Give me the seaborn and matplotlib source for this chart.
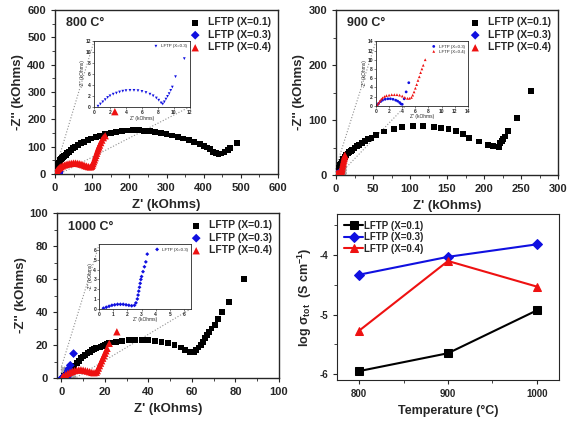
import numpy as np
import matplotlib
matplotlib.use('Agg')
import matplotlib.pyplot as plt
from matplotlib.ticker import MultipleLocator
import seaborn as sns

sns.set_style('ticks')
plt.rcParams['font.family'] = ['Liberation Sans', 'DejaVu Sans']
plt.rcParams['font.weight'] = 'bold'
plt.rcParams['axes.labelweight'] = 'bold'
plt.rcParams['mathtext.fontset'] = 'custom'
plt.rcParams['mathtext.rm'] = 'Liberation Sans:bold'
plt.rcParams['mathtext.it'] = 'Liberation Sans:bold'
plt.rcParams['mathtext.bf'] = 'Liberation Sans:bold'

labels = ['LFTP (X=0.1)', 'LFTP (X=0.3)', 'LFTP (X=0.4)']

# ---- 800 C (kOhms)
zr_800_a = [0.5,1,2,3,4,5,6,7,8,10,12,14,16,19,22,25,29,33,38,43,49,55,62,70,78,88,98,110,122,135,
            150,165,180,195,210,225,240,255,270,285,300,315,330,345,360,375,390,400,410,418,
            425,432,440,448,456,465,472,490]
zi_800_a = [8,12,18,22,26,29,32,35,38,42,46,50,54,58,62,66,71,76,82,88,94,100,106,112,118,124,130,135,140,145,
            150,154,157,159,160,160,158,156,153,150,146,141,136,130,124,117,110,104,97,90,
            82,76,74,75,80,88,96,113]
zr_800_c = [1,2,3,5,7,10,13,16,20,25,30,35,40,45,50,55,60,65,70,75,80,85,90,95,98,100,102,104,106,108,
            110,112,114,116,118,120,123,126,130,135,161]
zi_800_c = [2,5,8,12,16,20,24,27,30,33,35,37,38,39,40,40,39,38,36,34,31,29,27,26,28,32,38,45,52,60,
            68,76,84,92,99,106,115,124,133,140,228]
zr_800_b = [0.5,0.8,1.1,1.4,1.7,2.0,2.4,2.8,3.2,3.6,4.0,4.5,5.0,5.5,6.0,6.5,7.0,7.4,7.8,8.1,
            8.4,8.6,8.8,9.0,9.2,9.4,9.6,9.8,10.2,11.3]
zi_800_b = [0.1,0.5,0.9,1.3,1.7,2.0,2.3,2.5,2.7,2.85,2.95,3.0,3.0,2.95,2.8,2.6,2.3,2.0,1.6,1.2,
            0.7,0.5,0.9,1.4,1.9,2.4,3.0,3.6,5.5,8.8]

# ---- 900 C
zr_900_a = [1,2,3,4,5,6,7,8,9,10,12,14,16,18,20,22,25,28,31,35,39,43,48,54,65,78,89,104,118,132,
            142,152,162,172,180,193,205,212,220,221,222,224,226,228,232,244,264]
zi_900_a = [3,6,9,12,15,18,21,24,27,30,33,36,39,42,44,46,49,52,55,58,62,65,68,73,79,84,87,89,89,88,
            86,83,80,74,67,61,55,52,51,54,58,62,66,70,80,104,153]
zr_900_b = [0.2,0.4,0.7,1.0,1.4,1.8,2.2,2.6,3.0,3.3,3.6,3.8,4.0,4.3,4.6,5.0]
zi_900_b = [0.2,0.5,0.9,1.2,1.4,1.5,1.5,1.4,1.2,1.0,0.7,0.4,0.3,1.5,3.0,5.0]
zr_900_c = [0.2,0.4,0.6,0.8,1.0,1.3,1.6,2.0,2.4,2.8,3.2,3.6,4.0,4.4,4.8,5.1,5.4,5.6,5.8,6.0,
            6.2,6.4,6.6,6.8,7.0,7.2,7.5]
zi_900_c = [0.2,0.6,1.0,1.4,1.7,2.0,2.2,2.3,2.4,2.4,2.4,2.3,2.1,1.8,1.6,1.6,1.8,2.3,3.0,3.8,
            4.6,5.5,6.3,7.2,8.0,8.8,10.0]
zr_900_c_hi = [8,8.5,9,9.5,10,10.5,11,11.5,12]
zi_900_c_hi = [12,15,18,21,24,27,30,33,36]

# ---- 1000 C
zr_1000_a = [1,2,3,4,5,6,7,8,9,10,11,12,13,14,15,16,17,18,19,20,21,22,23,25,28,31,34,37,40,43,
             46,49,52,55,57,59,60,61,62,63,64,65,66,67,68,69,70.5,72,74,77,83.8]
zi_1000_a = [1,2,3,4.5,6,7.5,9,10.5,12,13,14,15,16,17,17.5,18,18.5,19,19.5,20,20.5,21,21.5,22,22.5,23,23,23,23,22.5,
             22,21,20,18.5,17,16,15.8,16,17,18.5,20,22,24,26,28,30,32,35.5,40,46,60]
zr_1000_c = [0.5,1,2,3,4,5,6,7,8,9,10,11,12,13,14,15,16,16.5,17,17.5,18,18.5,19,19.5,20,20.5,21,22,25.5]
zi_1000_c = [0.5,1.2,2,2.8,3.5,4,4.5,4.8,5,5,4.8,4.5,4.2,3.8,3.4,3.2,3.5,4.5,6,7.5,9,10.5,12,13.5,15,16.5,18,21,28]
zr_1000_b = [0.3,0.5,0.7,0.9,1.1,1.3,1.5,1.7,1.9,2.1,2.3,2.5,2.6,2.7,2.75,2.8,2.85,2.9,2.95,3.0,3.1,3.2,3.3,3.4]
zi_1000_b = [0.05,0.15,0.25,0.35,0.4,0.45,0.45,0.45,0.4,0.35,0.3,0.35,0.6,1.0,1.4,1.8,2.2,2.6,3.0,3.3,3.8,4.3,4.8,5.6]
zr_1000_b_hi = [4.1, 5.6]
zi_1000_b_hi = [7.7, 14.8]

# ---- conductivity
temps = [800, 900, 1000]
logsig_a = [-5.95, -5.65, -4.93]
logsig_b = [-4.33, -4.03, -3.82]
logsig_c = [-5.27, -4.10, -4.53]

colors = ['black', '#1010e0', '#ee1111']
markers = ['s', 'D', '^']
sizes = [18, 20, 28]

fig = plt.figure(figsize=(5.76, 4.24), dpi=100)
W, H = 576, 424
def rect(x0, y0, x1, y1):
    return [x0 / W, 1 - y1 / H, (x1 - x0) / W, (y1 - y0) / H]

ax1 = fig.add_axes(rect(55, 10, 278, 174))
ax2 = fig.add_axes(rect(336, 10, 558, 175))
ax3 = fig.add_axes(rect(57, 213, 279, 378))
ax4 = fig.add_axes(rect(337, 214, 559, 380))


def nyquist(ax, series, title, xmax, xmin, step, ymax):
    for (x, y), c, m, s, lab in zip(series, colors, markers, sizes, labels):
        sns.scatterplot(x=x, y=y, ax=ax, color=c, marker=m, s=s, edgecolor='none',
                        label=lab, zorder=3)
    ax.set_xlim(xmin, xmax)
    ax.set_ylim(0, ymax)
    ax.xaxis.set_major_locator(MultipleLocator(step))
    ax.xaxis.set_minor_locator(MultipleLocator(step / 2))
    ax.tick_params(labelsize=8, length=3)
    ax.tick_params(which='minor', length=2)
    ax.set_xlabel("Z' (kOhms)", fontsize=9.5)
    ax.set_ylabel("-Z'' (kOhms)", fontsize=9.5, labelpad=2)
    ax.text(0.05, 0.9, title, transform=ax.transAxes, fontsize=9, fontweight='bold')
    ax.legend(loc='upper right', frameon=False, fontsize=7.5, labelspacing=0.25,
              handletextpad=0.2, borderaxespad=0.3, markerscale=1.0)
    for sp in ax.spines.values():
        sp.set_linewidth(1.0)


def inset(ax, bounds, series, lim, step, show):
    ins = ax.inset_axes(bounds)
    for (x, y), c, lab in zip(series, show[0], show[1]):
        sns.scatterplot(x=x, y=y, ax=ins, color=c[0], marker=c[1], s=4,
                        edgecolor='none', label=lab)
    ins.set_xlim(0, lim[0])
    ins.set_ylim(0, lim[1])
    ins.xaxis.set_major_locator(MultipleLocator(step))
    ins.yaxis.set_major_locator(MultipleLocator(step))
    ins.tick_params(labelsize=3.5, length=1.2, width=0.4, pad=1)
    ins.set_xlabel("Z' (kOhms)", fontsize=3.5, labelpad=0.5, fontweight='normal')
    ins.set_ylabel("-Z'' (kOhms)", fontsize=3.5, labelpad=0.5, fontweight='normal')
    ins.legend(loc='upper right', frameon=False, handletextpad=0.1,
               markerscale=1, borderaxespad=0.3, labelspacing=0.2,
               prop={'size': 3.2, 'weight': 'normal'})
    for sp in ins.spines.values():
        sp.set_linewidth(0.6)
    ax.indicate_inset_zoom(ins, edgecolor='0.45', facecolor='0.6', alpha=0.8,
                           linestyle=':', linewidth=0.8, zorder=1)
    return ins


# 800 C
nyquist(ax1, [(zr_800_a, zi_800_a), (zr_800_b, zi_800_b), (zr_800_c, zi_800_c)],
        '800 C°', 600, 0, 100, 600)
ax1.yaxis.set_major_locator(MultipleLocator(100))
ax1.yaxis.set_minor_locator(MultipleLocator(50))
inset(ax1, [0.175, 0.41, 0.43, 0.40], [(zr_800_b, zi_800_b)], (12, 12), 2,
      ([(colors[1], 'v')], [labels[1]]))

# 900 C
nyquist(ax2, [(zr_900_a, zi_900_a), (zr_900_b, zi_900_b),
              (zr_900_c + zr_900_c_hi, zi_900_c + zi_900_c_hi)],
        '900 C°', 300, 0, 50, 300)
ax2.yaxis.set_major_locator(MultipleLocator(100))
ax2.yaxis.set_minor_locator(MultipleLocator(50))
inset(ax2, [0.18, 0.42, 0.414, 0.39], [(zr_900_b, zi_900_b), (zr_900_c, zi_900_c)], (14, 14), 2,
      ([(colors[1], 'o'), (colors[2], '^')], [labels[1], labels[2]]))

# 1000 C
nyquist(ax3, [(zr_1000_a, zi_1000_a), (zr_1000_b + zr_1000_b_hi, zi_1000_b + zi_1000_b_hi),
              (zr_1000_c, zi_1000_c)],
        '1000 C°', 100, -2, 20, 100)
ax3.yaxis.set_major_locator(MultipleLocator(20))
ax3.yaxis.set_minor_locator(MultipleLocator(10))
inset(ax3, [0.19, 0.42, 0.414, 0.39], [(zr_1000_b, zi_1000_b)], (6.5, 6.6), 1,
      ([(colors[1], 'D')], [labels[1]]))

# conductivity panel
for y, c, m, lab in zip([logsig_a, logsig_b, logsig_c], colors, markers, labels):
    sns.lineplot(x=temps, y=y, ax=ax4, color=c, marker=m, markersize=5.5,
                 markeredgecolor=c, linewidth=1.5, label=lab)
ax4.set_xlim(775, 1025)
ax4.set_ylim(-6.1, -3.31)
ax4.xaxis.set_major_locator(MultipleLocator(100))
ax4.xaxis.set_minor_locator(MultipleLocator(50))
ax4.yaxis.set_minor_locator(MultipleLocator(0.5))
ax4.set_yticks([-6, -5, -4])
ax4.set_yticklabels(['-6', '-5', '-4'])
ax4.tick_params(labelsize=7, length=3)
ax4.tick_params(which='minor', length=2)
ax4.set_xlabel('Temperature (°C)', fontsize=9)
ax4.set_ylabel(r'log $\sigma_{\rm tot}$  (S cm$^{-1}$)', fontsize=9)
ax4.legend(loc='upper left', frameon=False, fontsize=7, handlelength=2.0,
           handletextpad=0.1, labelspacing=0.15, borderaxespad=0.3)

fig.savefig('out.png', dpi=100)
